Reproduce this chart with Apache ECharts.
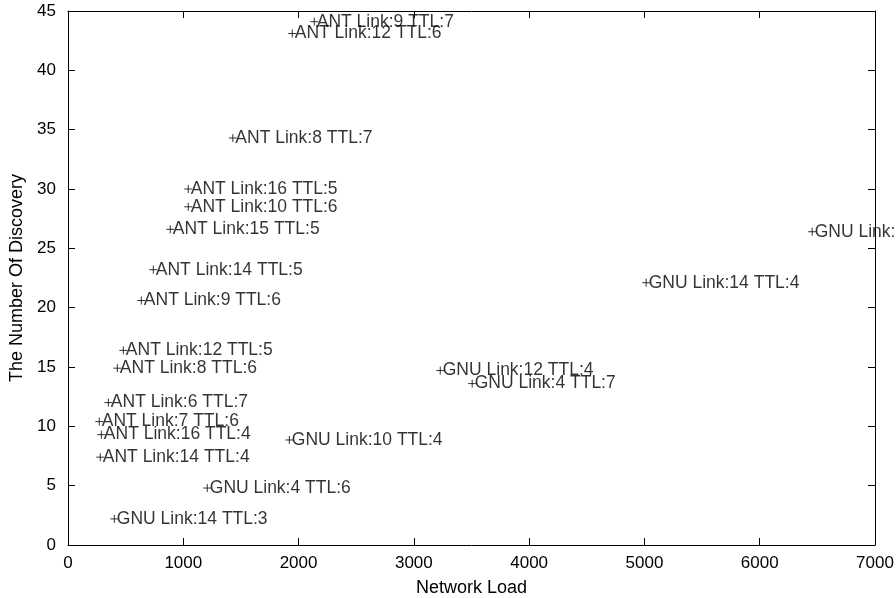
<!DOCTYPE html>
<html>
<head>
<meta charset="utf-8">
<script src="https://cdn.jsdelivr.net/npm/echarts@6/dist/echarts.min.js"></script>
<style>
  html, body { margin: 0; padding: 0; background: #fff; }
  #chart { width: 896px; height: 598px; }
</style>
</head>
<body>
<div id="chart"></div>
<script>
// Search configurations: protocol, link count and TTL
const pointLabels = [
  'ANT Link:9 TTL:7', 'ANT Link:12 TTL:6', 'ANT Link:8 TTL:7',
  'ANT Link:16 TTL:5', 'ANT Link:10 TTL:6', 'ANT Link:15 TTL:5',
  'ANT Link:14 TTL:5', 'ANT Link:9 TTL:6', 'ANT Link:12 TTL:5',
  'ANT Link:8 TTL:6', 'ANT Link:6 TTL:7', 'ANT Link:7 TTL:6',
  'ANT Link:16 TTL:4', 'ANT Link:14 TTL:4',
  'GNU Link:10 TTL:4', 'GNU Link:4 TTL:6', 'GNU Link:14 TTL:3',
  'GNU Link:12 TTL:4', 'GNU Link:4 TTL:7', 'GNU Link:14 TTL:4',
  'GNU Link:8 TTL:4'
];
// Network load for each configuration
const networkLoad = [
  2136, 1945, 1430,
  1043, 1043, 887,
  740, 636, 480,
  428, 350, 271,
  289, 280,
  1920, 1208, 402,
  3229, 3506, 5015,
  6455
];
// Number of discoveries for each configuration
const discoveries = [
  44.1, 43.1, 34.3,
  30.0, 28.5, 26.6,
  23.2, 20.6, 16.4,
  14.9, 12.0, 10.4,
  9.3, 7.4,
  8.85, 4.8, 2.2,
  14.7, 13.6, 22.1,
  26.4
];
const xTicks = { min: 0, max: 7000, interval: 1000 };
const yTicks = { min: 0, max: 45, interval: 5 };

const FONT = '"Liberation Sans", Arial, Helvetica, sans-serif';

const points = networkLoad.map((v, i) => ({
  value: [v, discoveries[i]],
  name: pointLabels[i]
}));

const baseAxis = {
  axisLine: { show: true, onZero: false, lineStyle: { color: '#000', width: 1 } },
  axisTick: { show: true, inside: true, length: 7, lineStyle: { color: '#000', width: 1 } },
  splitLine: { show: false },
  nameTextStyle: { color: '#000', fontFamily: FONT, fontSize: 18 }
};

const chart = echarts.init(document.getElementById('chart'), null, { renderer: 'canvas' });
chart.setOption({
  animation: false,
  backgroundColor: '#fff',
  grid: { left: 68, right: 21, top: 11, bottom: 53, containLabel: false, outerBoundsMode: 'none' },
  xAxis: [
    Object.assign({}, baseAxis, {
      type: 'value', position: 'bottom',
      min: xTicks.min, max: xTicks.max, interval: xTicks.interval,
      name: 'Network Load', nameLocation: 'middle', nameGap: 34,
      axisLabel: { color: '#000', fontFamily: FONT, fontSize: 17, margin: 10, formatter: v => String(v) }
    }),
    Object.assign({}, baseAxis, {
      type: 'value', position: 'top',
      min: xTicks.min, max: xTicks.max, interval: xTicks.interval,
      axisLabel: { show: false }
    })
  ],
  yAxis: [
    Object.assign({}, baseAxis, {
      type: 'value', position: 'left',
      min: yTicks.min, max: yTicks.max, interval: yTicks.interval,
      name: 'The Number Of Discovery', nameLocation: 'middle', nameGap: 38,
      axisLabel: { color: '#000', fontFamily: FONT, fontSize: 17, margin: 12, formatter: v => String(v) }
    }),
    Object.assign({}, baseAxis, {
      type: 'value', position: 'right',
      min: yTicks.min, max: yTicks.max, interval: yTicks.interval,
      axisLabel: { show: false }
    })
  ],
  series: [{
    type: 'scatter',
    xAxisIndex: 0,
    yAxisIndex: 0,
    data: points,
    symbol: 'path://M0,4L8,4M4,0L4,8',
    symbolSize: 8,
    itemStyle: { color: 'transparent', borderColor: '#000', borderWidth: 1 },
    label: {
      show: true,
      position: 'right',
      distance: -2,
      formatter: p => p.name,
      color: '#000',
      fontFamily: FONT,
      fontSize: 17.5
    },
    labelLayout: { hideOverlap: false },
    emphasis: { disabled: true }
  }]
});
</script>
</body>
</html>
